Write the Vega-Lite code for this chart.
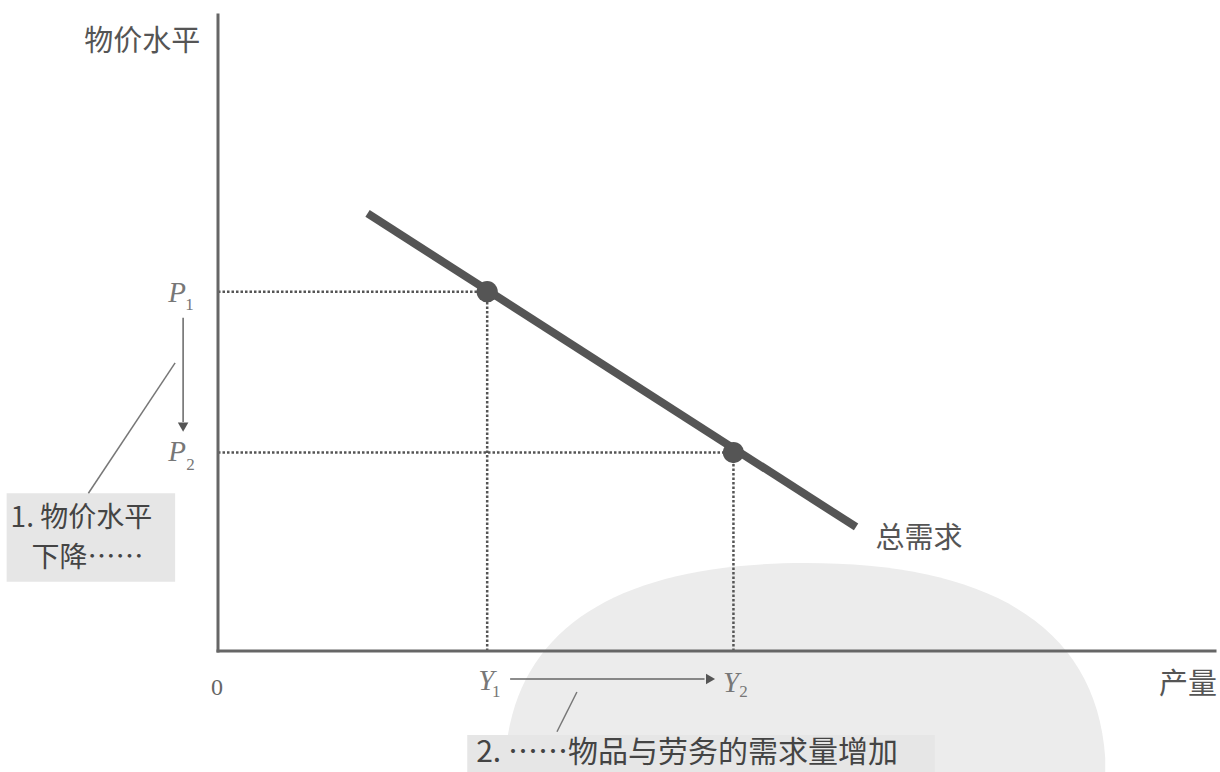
{
  "$schema": "https://vega.github.io/schema/vega-lite/v6.json",
  "width": 997,
  "height": 636,
  "autosize": "none",
  "padding": {"left": 218, "top": 15, "right": 5, "bottom": 121},
  "background": "white",
  "config": {
    "view": {"stroke": null},
    "axis": {"domain": false, "ticks": false, "labels": false, "grid": false, "title": null}
  },
  "datasets": {
    "blob": [{"x": 58.9, "y": -19.2}],
    "axes": [
      {"x": 0, "y": 0, "x2": 100, "y2": 0},
      {"x": 0, "y": 0, "x2": 0, "y2": 100}
    ],
    "dotted": [
      {"x": 0, "y": 56.5, "x2": 27, "y2": 56.5},
      {"x": 0, "y": 31.2, "x2": 51.7, "y2": 31.2},
      {"x": 27, "y": 0, "x2": 27, "y2": 56.5},
      {"x": 51.7, "y": 0, "x2": 51.7, "y2": 31.2}
    ],
    "ad": [{"x": 15, "y": 68.8, "x2": 64, "y2": 19.5}],
    "eq": [{"x": 27, "y": 56.5}, {"x": 51.7, "y": 31.2}],
    "arrows": [
      {"x": -3.5, "y": 52.4, "x2": -3.5, "y2": 36.0},
      {"x": 29.3, "y": -4.4, "x2": 48.8, "y2": -4.4}
    ],
    "heads": [
      {"x": -3.5, "y": 35.2, "dir": "down"},
      {"x": 49.4, "y": -4.4, "dir": "right"}
    ],
    "leaders": [
      {"x": -4.3, "y": 45.3, "x2": -13.0, "y2": 24.8},
      {"x": 36.0, "y": -6.45, "x2": 34.0, "y2": -12.7}
    ],
    "boxes": [
      {"x": -21.2, "y": 24.8, "x2": -4.3, "y2": 10.9},
      {"x": 25.0, "y": -13.2, "x2": 71.9, "y2": -20}
    ],
    "centerText": [
      {"x": -7.6, "y": 95.7, "label": "物价水平"},
      {"x": 97.3, "y": -5.3, "label": "产量"},
      {"x": 70.3, "y": 17.6, "label": "总需求"}
    ],
    "boxText1": [
      {"x": -20.8, "y": 20.8, "label": "1. 物价水平"},
      {"x": -18.7, "y": 14.4, "label": "下降……"}
    ],
    "boxText2": [
      {"x": 25.9, "y": -16.0, "label": "2. ……物品与劳务的需求量增加"}
    ],
    "letters": [
      {"x": -4.1, "y": 56.3, "label": "P"},
      {"x": -4.1, "y": 31.3, "label": "P"},
      {"x": 26.9, "y": -4.7, "label": "Y"},
      {"x": 51.45, "y": -5.0, "label": "Y"}
    ],
    "subs": [
      {"x": -2.85, "y": 54.4, "label": "1"},
      {"x": -2.75, "y": 29.25, "label": "2"},
      {"x": 27.9, "y": -6.45, "label": "1"},
      {"x": 52.7, "y": -6.45, "label": "2"}
    ],
    "zero": [{"x": -0.1, "y": -5.8, "label": "0"}]
  },
  "encoding": {
    "x": {"field": "x", "type": "quantitative", "scale": {"domain": [0, 100], "nice": false, "zero": false}},
    "y": {"field": "y", "type": "quantitative", "scale": {"domain": [0, 100], "nice": false, "zero": false}}
  },
  "layer": [
    {
      "data": {"name": "blob"},
      "mark": {"type": "point", "filled": true, "color": "#ececec", "opacity": 1, "size": 360000, "shape": "M-1,0.4L-1,-0.05C-0.97,-0.5,-0.6,-0.7,0,-0.7C0.6,-0.7,0.97,-0.5,1,-0.05L1,0.4Z", "strokeWidth": 0},
      "encoding": {}
    },
    {
      "data": {"name": "boxes"},
      "mark": {"type": "rect", "color": "#e6e6e6"},
      "encoding": {"x2": {"field": "x2"}, "y2": {"field": "y2"}}
    },
    {
      "data": {"name": "dotted"},
      "mark": {"type": "rule", "color": "#555555", "strokeWidth": 2.5, "strokeDash": [2.5, 2]},
      "encoding": {"x2": {"field": "x2"}, "y2": {"field": "y2"}}
    },
    {
      "data": {"name": "axes"},
      "mark": {"type": "rule", "color": "#666666", "strokeWidth": 3, "strokeCap": "square"},
      "encoding": {"x2": {"field": "x2"}, "y2": {"field": "y2"}}
    },
    {
      "data": {"name": "ad"},
      "mark": {"type": "rule", "color": "#555555", "strokeWidth": 8, "strokeCap": "butt"},
      "encoding": {"x2": {"field": "x2"}, "y2": {"field": "y2"}}
    },
    {
      "data": {"name": "eq"},
      "mark": {"type": "point", "filled": true, "shape": "circle", "color": "#555555", "opacity": 1, "size": 450},
      "encoding": {}
    },
    {
      "data": {"name": "arrows"},
      "mark": {"type": "rule", "color": "#666666", "strokeWidth": 1.5},
      "encoding": {"x2": {"field": "x2"}, "y2": {"field": "y2"}}
    },
    {
      "data": {"name": "heads"},
      "mark": {"type": "point", "filled": true, "color": "#555555", "opacity": 1, "size": 110},
      "encoding": {
        "shape": {"field": "dir", "type": "nominal", "scale": {"domain": ["down", "right"], "range": ["triangle-down", "triangle-right"]}, "legend": null}
      }
    },
    {
      "data": {"name": "leaders"},
      "mark": {"type": "rule", "color": "#777777", "strokeWidth": 1.5},
      "encoding": {"x2": {"field": "x2"}, "y2": {"field": "y2"}}
    },
    {
      "data": {"name": "centerText"},
      "mark": {"type": "text", "font": "Noto Sans CJK SC", "fontSize": 29, "color": "#555555", "align": "center", "baseline": "middle"},
      "encoding": {"text": {"field": "label"}}
    },
    {
      "data": {"name": "boxText1"},
      "mark": {"type": "text", "font": "Noto Sans CJK SC", "fontSize": 28, "color": "#444444", "align": "left", "baseline": "middle"},
      "encoding": {"text": {"field": "label"}}
    },
    {
      "data": {"name": "boxText2"},
      "mark": {"type": "text", "font": "Noto Sans CJK SC", "fontSize": 30, "color": "#444444", "align": "left", "baseline": "middle"},
      "encoding": {"text": {"field": "label"}}
    },
    {
      "data": {"name": "letters"},
      "mark": {"type": "text", "font": "Liberation Serif", "fontStyle": "italic", "fontSize": 29, "color": "#777777", "align": "center", "baseline": "middle"},
      "encoding": {"text": {"field": "label"}}
    },
    {
      "data": {"name": "subs"},
      "mark": {"type": "text", "font": "Liberation Serif", "fontSize": 17, "color": "#777777", "align": "center", "baseline": "middle"},
      "encoding": {"text": {"field": "label"}}
    },
    {
      "data": {"name": "zero"},
      "mark": {"type": "text", "font": "Liberation Serif", "fontSize": 24, "color": "#666666", "align": "center", "baseline": "middle"},
      "encoding": {"text": {"field": "label"}}
    }
  ]
}
